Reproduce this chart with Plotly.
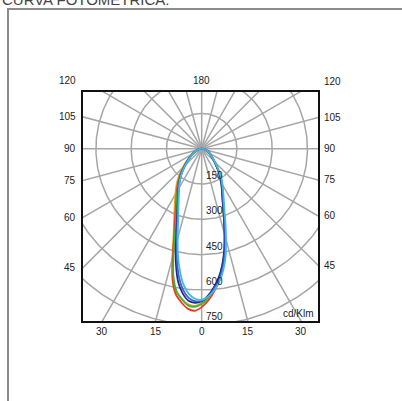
import numpy as np
import plotly.graph_objects as go

# ---------------- data ----------------
GAMMA = [-90, -80, -70, -60, -50, -45, -40, -35, -30, -25, -20, -17.5, -15, -12.5, -10, -7.5, -5, -2.5,
         0, 2.5, 5, 7.5, 10, 12.5, 15, 17.5, 20, 25, 30, 35, 40, 45, 50, 60, 70, 80, 90]

RED = [0, 11, 26, 46, 80, 106, 140, 175, 212, 258, 335, 389, 476, 572, 630, 659, 682, 689,
       673, 645, 609, 568, 515, 454, 384, 323, 273, 211, 172, 138, 102, 78, 60, 40, 24, 10, 0]
ORANGE = [0, 12, 28, 49, 86, 114, 150, 186, 224, 272, 345, 400, 480, 565, 618, 645, 664, 668,
          655, 628, 594, 555, 505, 445, 378, 318, 268, 207, 168, 135, 100, 76, 58, 39, 23, 10, 0]
GREEN = [0, 11, 26, 45, 78, 103, 136, 170, 206, 250, 320, 378, 462, 555, 615, 645, 668, 672,
         660, 633, 598, 558, 507, 447, 378, 318, 268, 207, 168, 135, 100, 76, 58, 39, 23, 10, 0]
NAVY = [0, 11, 25, 44, 76, 100, 132, 164, 198, 240, 305, 355, 425, 505, 575, 620, 648, 655,
        648, 625, 592, 553, 503, 443, 376, 316, 266, 205, 166, 133, 98, 75, 57, 38, 22, 10, 0]
BLUE = [0, 11, 25, 44, 75, 98, 130, 162, 195, 236, 298, 345, 410, 485, 555, 605, 636, 648,
        646, 628, 598, 562, 515, 456, 388, 327, 275, 212, 172, 137, 101, 77, 59, 39, 23, 10, 0]
CYAN = [0, 11, 25, 43, 74, 97, 128, 160, 193, 232, 290, 335, 395, 465, 530, 585, 620, 638,
        642, 630, 605, 572, 527, 470, 400, 338, 285, 220, 178, 142, 105, 80, 61, 40, 24, 10, 0]

SERIES = [("C0", ORANGE, "#f0a020"), ("C1", RED, "#ee3a1c"), ("C2", GREEN, "#3cb43c"),
          ("C3", NAVY, "#1c2a8c"), ("C4", BLUE, "#3a62d0"), ("C5", CYAN, "#46b8e0")]

RINGS = [150, 300, 450, 600, 750, 900]
RING_LABELS = ["150", "300", "450", "600", "750"]
SPOKES = list(range(0, 360, 15))
SIDE_ANGLES = [120, 105, 90, 75, 60, 45]
SIDE_LABELS = ["120", "105", "90", "75", "60", "45"]
BOTTOM_ANGLES = [-30, -15, 0, 15, 30]
BOTTOM_LABELS = ["30", "15", "0", "15", "30"]
TOP_LABEL = "180"
UNIT_LABEL = "cd/Klm"
TITLE = "CURVA FOTOMETRICA:"

# ---------------- layout constants ----------------
W, H = 402, 401
ML, MR, MT, MB = 83, 84, 92, 80
PW, PH = W - ML - MR, H - MT - MB
XR = [-505, 495]
YR = [-732, 241]

GRID = "#a6a6a6"
FONT = dict(family="Liberation Sans, Arial, sans-serif", size=10, color="#222222")


def dx2p(x):
    return (x - XR[0]) / (XR[1] - XR[0])


def dy2p(y):
    return (y - YR[0]) / (YR[1] - YR[0])


def px2p(px):
    return (px - ML) / PW


def py2p(py):
    return 1 - (py - MT) / PH


fig = go.Figure()

# polar grid: rings
t = np.linspace(0, 2 * np.pi, 361)
for r in RINGS:
    fig.add_trace(go.Scatter(x=r * np.sin(t), y=r * np.cos(t), mode="lines",
                             line=dict(color=GRID, width=1.5), hoverinfo="skip", showlegend=False))
# spokes (angle measured from straight down)
for a in SPOKES:
    th = np.radians(a)
    fig.add_trace(go.Scatter(x=[0, 1500 * np.sin(th)], y=[0, -1500 * np.cos(th)], mode="lines",
                             line=dict(color=GRID, width=1.5), hoverinfo="skip", showlegend=False))

# photometric curves
g = np.radians(np.array(GAMMA, dtype=float))
for name, vals, col in SERIES:
    v = np.array(vals, dtype=float)
    fig.add_trace(go.Scatter(x=v * np.sin(g), y=-v * np.cos(g), mode="lines", name=name,
                             line=dict(color=col, width=1.8, shape="spline", smoothing=0.8),
                             showlegend=False))

ann = []
# side labels (left / right)
for a, lab in zip(SIDE_ANGLES, SIDE_LABELS):
    th = np.radians(a)
    yl = XR[0] * np.cos(th) / np.sin(th)
    yr = -XR[1] * np.cos(th) / np.sin(th)
    ann.append(dict(x=0, y=dy2p(yl), xref="paper", yref="paper", text=lab, showarrow=False,
                    xanchor="right", yanchor="middle", xshift=-5, font=FONT))
    ann.append(dict(x=1, y=dy2p(yr), xref="paper", yref="paper", text=lab, showarrow=False,
                    xanchor="left", yanchor="middle", xshift=4, font=FONT))
# top label
th120 = np.radians(120)
ann.append(dict(x=dx2p(0), y=dy2p(XR[0] * np.cos(th120) / np.sin(th120)), xref="paper", yref="paper",
                text=TOP_LABEL, showarrow=False, xanchor="center", yanchor="middle", font=FONT))
# bottom labels
for a, lab in zip(BOTTOM_ANGLES, BOTTOM_LABELS):
    xb = -YR[0] * np.tan(np.radians(a))
    ann.append(dict(x=dx2p(xb), y=0, xref="paper", yref="paper", text=lab, showarrow=False,
                    xanchor="center", yanchor="top", yshift=-3, font=FONT))
# ring labels
for r, lab in zip(RINGS, RING_LABELS):
    ann.append(dict(x=dx2p(0), y=dy2p(-r), xref="paper", yref="paper", text=lab, showarrow=False,
                    xanchor="left", yanchor="bottom", xshift=2, yshift=1, font=FONT))
# unit
ann.append(dict(x=1, y=0, xref="paper", yref="paper", text=UNIT_LABEL, showarrow=False,
                xanchor="right", yanchor="bottom", xshift=-2, yshift=0, font=FONT))
# title (cut by the top of the page)
ann.append(dict(x=px2p(0), y=py2p(0), xref="paper", yref="paper", text=TITLE, showarrow=False,
                xanchor="left", yanchor="middle",
                font=dict(family="Liberation Sans, Arial, sans-serif", size=15, color="#444444")))

shapes = [dict(type="rect", xref="paper", yref="paper",
               x0=px2p(8), x1=px2p(420), y0=py2p(420), y1=py2p(9),
               line=dict(color="#8c8c8c", width=2), layer="below")]

fig.update_layout(
    width=W, height=H, autosize=False,
    margin=dict(l=ML, r=MR, t=MT, b=MB, pad=0),
    paper_bgcolor="white", plot_bgcolor="white",
    annotations=ann, shapes=shapes,
    xaxis=dict(range=XR, showgrid=False, zeroline=False, showticklabels=False, ticks="",
               showline=True, linecolor="#111111", linewidth=1.5, mirror=True, fixedrange=True),
    yaxis=dict(range=YR, showgrid=False, zeroline=False, showticklabels=False, ticks="",
               showline=True, linecolor="#111111", linewidth=1.5, mirror=True, fixedrange=True),
)

fig.write_html("out.html", config={"displayModeBar": False},
               post_script="document.body.style.margin='0px';document.body.style.overflow='hidden';")
